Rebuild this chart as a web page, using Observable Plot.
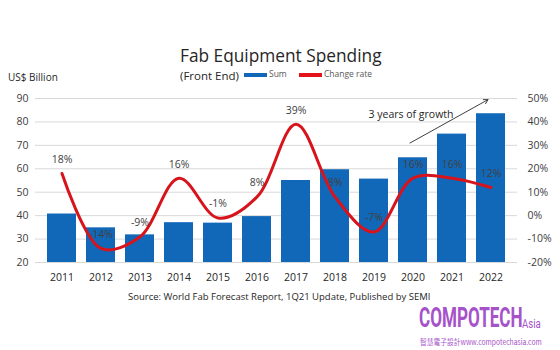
<!DOCTYPE html>
<html>
<head>
<meta charset="utf-8">
<script src="https://cdn.jsdelivr.net/npm/d3@7"></script>
<script src="https://cdn.jsdelivr.net/npm/@observablehq/plot@0.6"></script>
<style>
  html, body { margin: 0; padding: 0; background: #fff; }
  #wrap { position: relative; width: 560px; height: 350px; font-family: "Open Sans", sans-serif; color: #404040; overflow: hidden; }
  .abs { position: absolute; white-space: nowrap; }
  #chart { position: absolute; left: 0; top: 88px; }
  .sw { display: inline-block; width: 23px; height: 4px; vertical-align: middle; margin-right: 2px; }
</style>
</head>
<body>
<div id="wrap">
  <div class="abs" style="left:180px;top:44px;font-size:17.3px;color:#262626;">Fab Equipment Spending</div>
  <div class="abs" style="left:180px;top:68px;font-size:11.5px;color:#262626;">(Front End)</div>
  <div class="abs" style="left:244px;top:68px;font-size:8.5px;color:#595959;">
    <span class="sw" style="background:#1268b8;"></span>Sum
    <span class="sw" style="background:#e3121b;margin-left:10px;"></span>Change rate
  </div>
  <div class="abs" style="left:8px;top:70px;font-size:10px;color:#262626;">US$ Billion</div>
  <div id="chart"></div>
  <div class="abs" style="left:128px;top:290px;font-size:9.5px;color:#262626;">Source: World Fab Forecast Report, 1Q21 Update, Published by SEMI</div>
  <div class="abs" style="left:419px;top:305px;font-family:Roboto,sans-serif;font-weight:bold;font-size:28px;line-height:26px;color:#a652c9;transform:scaleX(0.61);transform-origin:left;">COMPOTECH</div>
  <div class="abs" style="left:522px;top:318px;font-family:Roboto,sans-serif;font-size:12px;line-height:13px;color:#a652c9;transform:scaleX(0.8);transform-origin:left;">Asia</div>
  <div class="abs" style="left:420px;top:338px;font-size:7.5px;line-height:8px;color:#a652c9;font-family:'Noto Sans CJK TC',sans-serif;transform:scaleX(0.9);transform-origin:left;">智慧電子設計www.compotechasia.com</div>
</div>
<script>
const years = [2011, 2012, 2013, 2014, 2015, 2016, 2017, 2018, 2019, 2020, 2021, 2022];
const spending = [40.7, 34.8, 31.8, 37.0, 36.8, 39.6, 55.0, 59.6, 55.6, 64.7, 74.8, 83.5];
const changeRate = [18, -14, -9, 16, -1, 8, 39, 8, -7, 16, 16, 12];
const leftTicks = [20, 30, 40, 50, 60, 70, 80, 90];
const rightTicks = [-20, -10, 0, 10, 20, 30, 40, 50];
const annotation = [{x1: 2020, y1: 71, x2: 2022, y2: 89.5, label: "3 years of growth", ty: 83.2}];

// right axis (%) is a shifted copy of the left axis: -20% ↔ 20, 50% ↔ 90
const rateToLeft = r => r - rightTicks[0] + leftTicks[0];

const data = years.map((year, i) => ({year, sum: spending[i], rate: changeRate[i]}));

const chart = Plot.plot({
  width: 560,
  height: 200,
  marginLeft: 35,
  marginRight: 43,
  marginTop: 10,
  marginBottom: 26,
  style: {fontFamily: "'Open Sans', sans-serif", fontSize: "10px", color: "#404040", background: "transparent"},
  x: {type: "band", domain: years, padding: 0.25, label: null},
  y: {domain: [20, 90], label: null},
  marks: [
    Plot.gridY(leftTicks, {stroke: "#d9d9d9", strokeOpacity: 1}),
    Plot.barY(data, {x: "year", y: "sum", fill: "#1268b8", clip: true}),
    Plot.line(data, {x: "year", y: d => rateToLeft(d.rate), curve: "catmull-rom", stroke: "#d7141c", strokeWidth: 3}),
    Plot.text(data, {x: "year", y: d => rateToLeft(d.rate), text: d => d.rate + "%", dy: -14, fill: "#404040", fontSize: 10.5}),
    Plot.arrow(annotation, {x1: "x1", y1: "y1", x2: "x2", y2: "y2", stroke: "#404040", strokeWidth: 1, headLength: 7, dx: -3}),
    Plot.text(annotation, {x: "x1", y: "ty", text: "label", dx: -2, fill: "#262626", fontSize: 10.5}),
    Plot.axisY(leftTicks, {anchor: "left", tickSize: 0, tickPadding: 7, fill: "#404040", fontSize: 10.5}),
    Plot.axisY(rightTicks.map(rateToLeft), {anchor: "right", tickSize: 0, tickPadding: 10, textAnchor: "start", tickFormat: v => (v - rateToLeft(0)) + "%", fill: "#404040", fontSize: 10.5}),
    Plot.axisX({tickSize: 0, tickPadding: 11, tickFormat: d => String(d), fill: "#262626", fontSize: 10.5})
  ]
});
document.getElementById("chart").appendChild(chart);
</script>
</body>
</html>
